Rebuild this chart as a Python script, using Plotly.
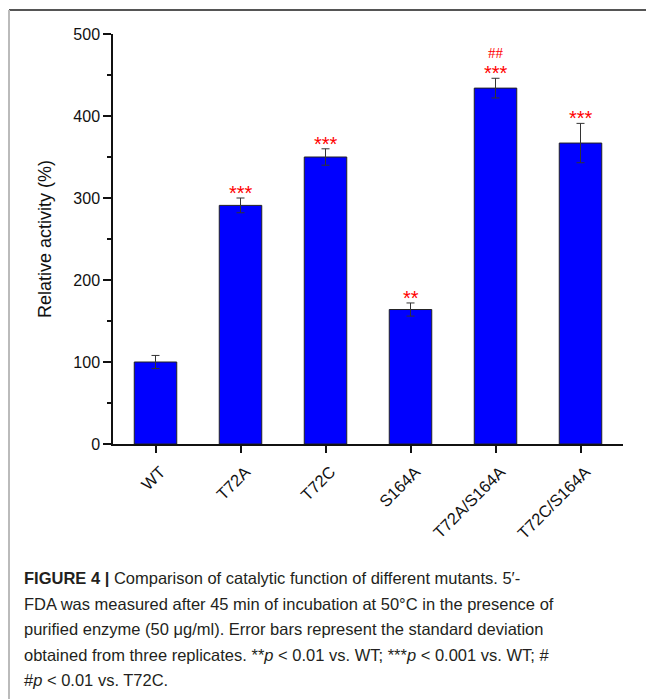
import plotly.graph_objects as go

categories = ["WT", "T72A", "T72C", "S164A", "T72A/S164A", "T72C/S164A"]
activity = [100, 291, 350, 164, 434, 367]
errors = [8, 9, 10, 8, 12, 24]
stars = ["", "***", "***", "**", "***", "***"]
hashes = ["", "", "", "", "##", ""]
y_ticks = [0, 100, 200, 300, 400, 500]

caption_lines = [
    "<b>FIGURE 4 |</b> Comparison of catalytic function of different mutants. 5′-",
    "FDA was measured after 45 min of incubation at 50°C in the presence of",
    "purified enzyme (50 μg/ml). Error bars represent the standard deviation",
    "obtained from three replicates. **<i>p</i> &lt; 0.01 vs. WT; ***<i>p</i> &lt; 0.001 vs. WT; #",
    "#<i>p</i> &lt; 0.01 vs. T72C.",
]

W, H = 646, 699
L, R, T, B = 113, 23, 34, 255
pw, ph = W - L - R, H - T - B

def px_x(x):
    return (x - L) / pw

def px_y(y):
    return (H - B - y) / ph

fig = go.Figure()
fig.add_trace(go.Bar(
    x=categories, y=activity, width=0.5,
    marker=dict(color="#0000FF", line=dict(color="#222222", width=1)),
    error_y=dict(type="data", array=errors, visible=True, color="#333333",
                 thickness=1, width=4),
    showlegend=False,
))

annotations = []
for c, v, e, s, h in zip(categories, activity, errors, stars, hashes):
    if s:
        annotations.append(dict(x=c, y=v + e, text=s, showarrow=False,
                                xref="x", yref="y", yanchor="bottom", yshift=-8,
                                font=dict(color="#FF0000", size=20, family="Liberation Sans")))
    if h:
        annotations.append(dict(x=c, y=v + e, text=h, showarrow=False,
                                xref="x", yref="y", yanchor="bottom", yshift=15,
                                font=dict(color="#FF0000", size=15, family="Liberation Serif")))

for i, line in enumerate(caption_lines):
    annotations.append(dict(x=px_x(22), y=px_y(578 + i * 25.6), xref="paper", yref="paper",
                            text=line, showarrow=False, xanchor="left", yanchor="middle",
                            font=dict(size=16.5, color="#231f20", family="Liberation Sans, Arial")))

shapes = [
    dict(type="line", xref="paper", yref="paper", x0=px_x(9), x1=px_x(W), y0=px_y(10), y1=px_y(10),
         line=dict(color="#555555", width=2)),
    dict(type="line", xref="paper", yref="paper", x0=px_x(9), x1=px_x(9), y0=px_y(10), y1=px_y(H),
         line=dict(color="#bbbbbb", width=2)),
]

fig.update_layout(
    width=W, height=H,
    margin=dict(l=L, r=R, t=T, b=B, pad=0),
    paper_bgcolor="white", plot_bgcolor="white",
    font=dict(family="Liberation Sans, Arial", color="#111111", size=15),
    annotations=annotations, shapes=shapes,
    bargap=0.5,
)
fig.update_xaxes(
    range=[-0.5, 5.5], showline=True, linecolor="#111111", linewidth=1.5,
    ticks="outside", ticklen=7, tickcolor="#111111", tickwidth=1.5,
    tickangle=-45, tickfont=dict(size=16.5), showgrid=False, zeroline=False,
    ticklabelshift=5, ticklabelstandoff=3,
)
fig.update_yaxes(
    range=[0, 500], showline=True, linecolor="#111111", linewidth=1.5,
    tickvals=y_ticks, ticks="outside", ticklen=8, tickcolor="#111111", tickwidth=1.5,
    minor=dict(tickvals=[50, 150, 250, 350, 450], ticks="outside", ticklen=4,
               tickcolor="#111111", tickwidth=1.5),
    tickfont=dict(size=16), showgrid=False, zeroline=False,
    title=dict(text="Relative activity (%)", font=dict(size=18), standoff=17),
)

fig.write_html("out.html", config={"displayModeBar": False},
               post_script="document.body.style.margin='0px';")
